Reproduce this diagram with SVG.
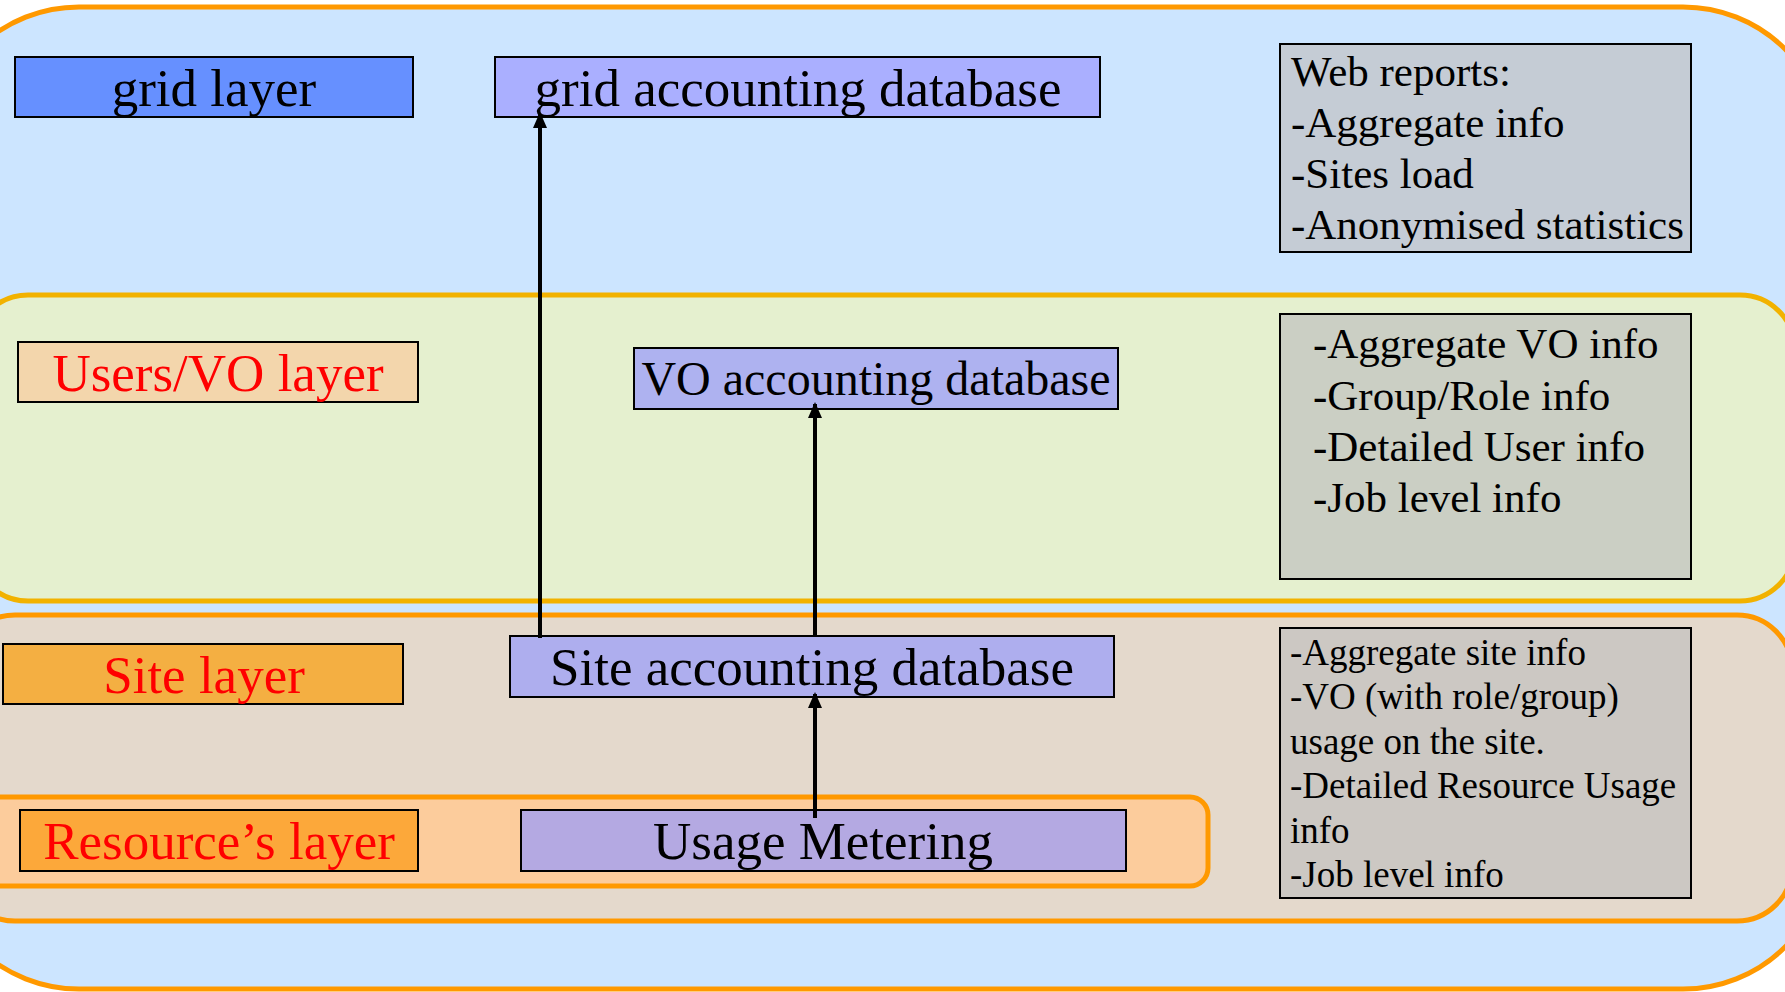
<svg xmlns="http://www.w3.org/2000/svg" width="1785" height="992" viewBox="0 0 1785 992">
<defs>
<style>
.band{stroke-width:5}
.box{stroke:#000;stroke-width:2}
.lbl{font-family:"Liberation Serif","Times New Roman",serif;font-size:53px;text-anchor:middle;fill:#000}
.red{fill:#FF0000}
.info{font-family:"Liberation Serif","Times New Roman",serif;font-size:43px;fill:#000}
.small{font-size:37px}
.conn{stroke:#000;stroke-width:4;fill:none}
</style>
<marker id="ah" viewBox="0 0 16 14" refX="14" refY="7" markerWidth="16" markerHeight="14" markerUnits="userSpaceOnUse" orient="auto">
<path d="M0,0 L16,7 L0,14 Z" fill="#000"/>
</marker>
</defs>

<g id="grid-band"><rect class="band" x="-66" y="7" width="1894" height="982" rx="145" ry="145" fill="#CCE5FF" stroke="#FF9900"/></g>
<g id="users-band"><rect class="band" x="-27" y="295" width="1822" height="306" rx="55" ry="55" fill="#E5F0CF" stroke="#F2B200"/></g>
<g id="site-band"><rect class="band" x="-40" y="615" width="1832" height="306" rx="55" ry="55" fill="#E4D9CC" stroke="#FF9900"/></g>
<g id="resource-band"><rect class="band" x="-30" y="797" width="1238" height="89" rx="18" ry="18" fill="#FCCC9C" stroke="#FF9900"/></g>

<g id="grid-layer"><rect class="box" x="15" y="57" width="398" height="60" fill="#6690FF"/><text class="lbl" x="214" y="106">grid layer</text></g>
<g id="grid-db"><rect class="box" x="495" y="57" width="605" height="60" fill="#AAAFFF"/><text class="lbl" x="798" y="106">grid accounting database</text></g>
<g id="web-reports"><rect class="box" x="1280" y="44" width="411" height="208" fill="#C5CCD5"/>
<text class="info" x="1291" y="86">Web reports:</text>
<text class="info" x="1291" y="137">-Aggregate info</text>
<text class="info" x="1291" y="188">-Sites load</text>
<text class="info" x="1291" y="239">-Anonymised statistics</text></g>

<g id="users-layer"><rect class="box" x="18" y="342" width="400" height="60" fill="#F3D6AC"/><text class="lbl red" x="218" y="391">Users/VO layer</text></g>
<g id="vo-db"><rect class="box" x="634" y="348" width="484" height="61" fill="#AEB2F0"/><text class="lbl" x="876" y="395" style="font-size:48px">VO accounting database</text></g>
<g id="vo-info"><rect class="box" x="1280" y="314" width="411" height="265" fill="#CBCFC4"/>
<text class="info" x="1313" y="358">-Aggregate VO info</text>
<text class="info" x="1313" y="410">-Group/Role info</text>
<text class="info" x="1313" y="461">-Detailed User info</text>
<text class="info" x="1313" y="512">-Job level info</text></g>

<g id="site-layer"><rect class="box" x="3" y="644" width="400" height="60" fill="#F4AF42"/><text class="lbl red" x="204" y="693">Site layer</text></g>
<g id="site-db"><rect class="box" x="510" y="636" width="604" height="61" fill="#AEAEEE"/><text class="lbl" x="812" y="685">Site accounting database</text></g>
<g id="site-info"><rect class="box" x="1280" y="628" width="411" height="270" fill="#CCC8C3"/>
<text class="info small" x="1290" y="665">-Aggregate site info</text>
<text class="info small" x="1290" y="709">-VO (with role/group)</text>
<text class="info small" x="1290" y="754">usage on the site.</text>
<text class="info small" x="1290" y="798">-Detailed Resource Usage</text>
<text class="info small" x="1290" y="843">info</text>
<text class="info small" x="1290" y="887">-Job level info</text></g>

<g id="resource-layer"><rect class="box" x="20" y="810" width="398" height="61" fill="#FCA83A"/><text class="lbl red" x="219" y="859">Resource’s layer</text></g>
<g id="usage-metering"><rect class="box" x="521" y="810" width="605" height="61" fill="#B4A9E2"/><text class="lbl" x="823" y="859">Usage Metering</text></g>

<g id="connectors">
<line class="conn" x1="540" y1="638" x2="540" y2="114" marker-end="url(#ah)"/>
<line class="conn" x1="815" y1="636" x2="815" y2="404" marker-end="url(#ah)"/>
<line class="conn" x1="815" y1="818" x2="815" y2="694" marker-end="url(#ah)"/>
</g>
</svg>
